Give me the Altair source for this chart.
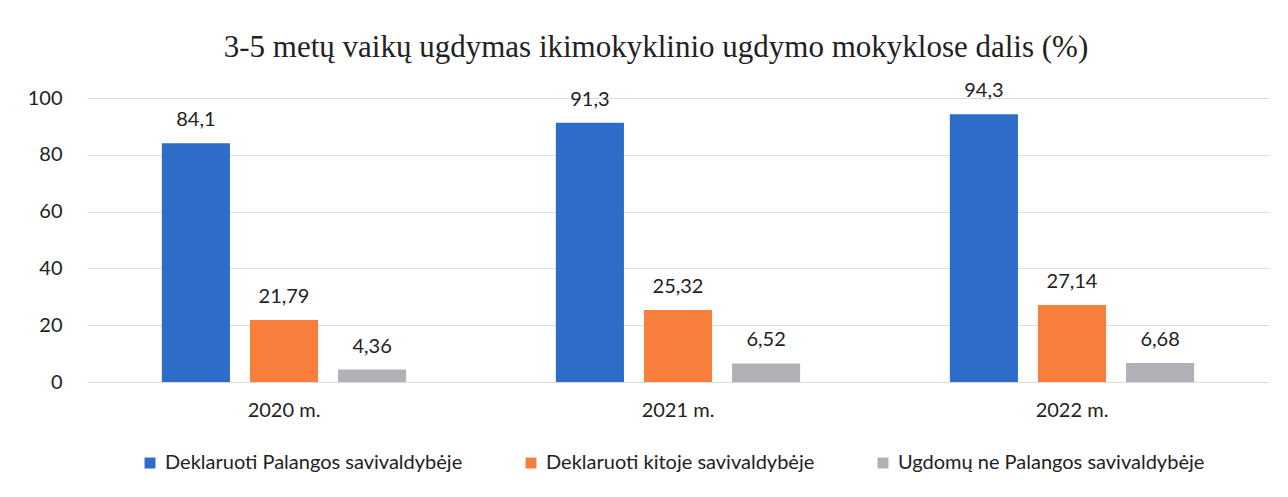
import altair as alt
import pandas as pd

years = ["2020 m.", "2021 m.", "2022 m."]
series = [
    "Deklaruoti Palangos savivaldybėje",
    "Deklaruoti kitoje savivaldybėje",
    "Ugdomų ne Palangos savivaldybėje",
]
values = {
    "Deklaruoti Palangos savivaldybėje": [84.1, 91.3, 94.3],
    "Deklaruoti kitoje savivaldybėje": [21.79, 25.32, 27.14],
    "Ugdomų ne Palangos savivaldybėje": [4.36, 6.52, 6.68],
}
colors = ["#2D6CC9", "#F87E3B", "#B3AFB6"]

rows = []
for s in series:
    for y, v in zip(years, values[s]):
        rows.append({"year": y, "series": s, "value": v, "label": str(v).replace(".", ",")})
df = pd.DataFrame(rows)

font = "Lato"
fs = 20

base = alt.Chart(df).encode(
    x=alt.X("year:N", sort=years, title=None,
            scale=alt.Scale(paddingInner=0.38, paddingOuter=0.19),
            axis=alt.Axis(labelAngle=0, labelFontSize=fs, labelFont=font, labelColor="#222",
                          ticks=False, domain=False, grid=False, labelPadding=18)),
    xOffset=alt.XOffset("series:N", sort=series,
                        scale=alt.Scale(paddingInner=0.227, paddingOuter=0)),
)

bars = base.mark_bar().encode(
    y=alt.Y("value:Q", title=None,
            scale=alt.Scale(domain=[0, 100]),
            axis=alt.Axis(values=[0, 20, 40, 60, 80, 100], labelFontSize=fs, labelFont=font,
                          labelColor="#222", ticks=False, domain=False, labelPadding=25,
                          gridColor="#dcdcdc", gridWidth=1)),
    color=alt.Color("series:N", sort=series,
                    scale=alt.Scale(domain=series, range=colors),
                    legend=alt.Legend(title=None, orient="none", direction="horizontal",
                                      legendX=53, legendY=355, symbolType="square",
                                      symbolSize=120, labelFontSize=20, labelFont=font,
                                      labelColor="#222", columnPadding=58, labelOffset=5,
                                      labelLimit=0, symbolStrokeWidth=0)),
)

texts = base.mark_text(baseline="bottom", dy=-13, fontSize=fs, font=font, color="#222").encode(
    y="value:Q",
    text="label:N",
)

chart = alt.layer(bars, texts).properties(
    width=1182,
    height=284,
    title=alt.TitleParams(
        "3-5 metų vaikų ugdymas ikimokyklinio ugdymo mokyklose dalis (%)",
        font="Liberation Serif", fontSize=31, fontWeight="normal", color="#222",
        anchor="middle", dx=-22, offset=17,
    ),
    autosize=alt.AutoSizeParams(type="none"),
    padding={"left": 79, "top": 90, "right": 11, "bottom": 107},
).configure(background="white").configure_view(stroke=None)

chart.save("out.html", embed_options={"renderer": "svg", "actions": False})
